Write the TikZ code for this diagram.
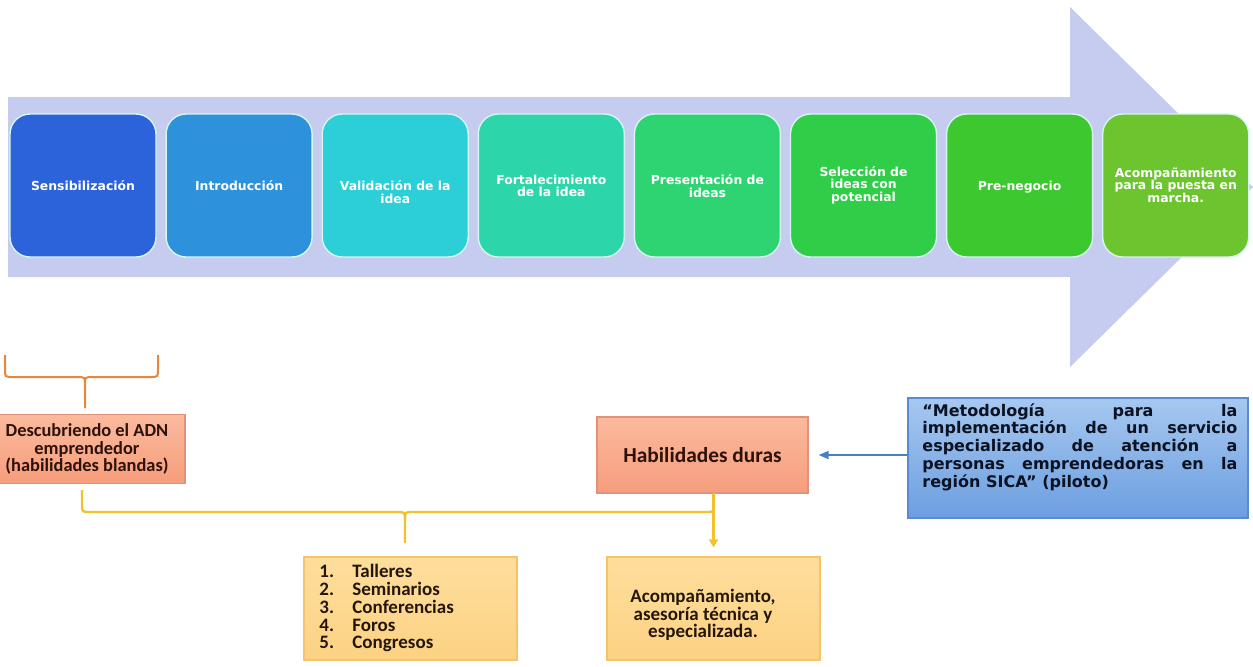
\documentclass[tikz,border=0pt]{standalone}
\usepackage{fontspec}
\setmainfont{DejaVu Sans}
\newfontfamily\carl{Carlito}
\usetikzlibrary{arrows.meta,calc}
\newcommand\tightls{\lineskiplimit -20pt\relax}
\definecolor{arrowcol}{HTML}{C6CBF0}
\definecolor{cA}{HTML}{2C62DA}
\definecolor{cB}{HTML}{2D92DB}
\definecolor{cC}{HTML}{2CCED8}
\definecolor{cD}{HTML}{2DD6AA}
\definecolor{cE}{HTML}{2ED472}
\definecolor{cF}{HTML}{30CE48}
\definecolor{cG}{HTML}{3CC82E}
\definecolor{cH}{HTML}{6CC42E}
\definecolor{boxedge}{HTML}{D4F7EE}
\definecolor{salmontop}{HTML}{FBBA9D}
\definecolor{salmonbot}{HTML}{F69D7C}
\definecolor{salmonedge}{HTML}{E3927A}
\definecolor{salmontext}{HTML}{2E1209}
\definecolor{ytop}{HTML}{FEDE9C}
\definecolor{ybot}{HTML}{FCD283}
\definecolor{yedge}{HTML}{F5C46A}
\definecolor{ytext}{HTML}{24170A}
\definecolor{btop}{HTML}{A6C8F0}
\definecolor{bbot}{HTML}{6C9EE0}
\definecolor{bedge}{HTML}{5A8BD2}
\definecolor{btext}{HTML}{0B1222}
\definecolor{barrowcol}{HTML}{4A7EC8}
\definecolor{orangebr}{HTML}{E8873A}
\definecolor{yellowbr}{HTML}{F2C12E}
\begin{document}
\begin{tikzpicture}[x=0.5pt,y=-0.5pt,
  stepbox/.style={rounded corners=10pt, minimum width=73pt, minimum height=71.5pt,
    draw=boxedge, line width=0.7pt, inner sep=0pt},
  steptext/.style={text=white, font=\bfseries\fontsize{6.2}{6.2}\selectfont\tightls,
    align=center, inner sep=0pt},
  salmonbox/.style={draw=salmonedge, line width=0.6pt, top color=salmontop, bottom color=salmonbot,
    text=salmontext, align=center, inner sep=0pt},
  ybox/.style={draw=yedge, line width=0.6pt, top color=ytop, bottom color=ybot, inner sep=0pt},
  bluebox/.style={draw=bedge, line width=0.6pt, top color=btop, bottom color=bbot, inner sep=0pt},
  carltext/.style={font=\carl\bfseries\fontsize{9.5}{8.9}\selectfont\tightls, text=ytext, inner sep=0pt},
  obrace/.style={draw=orangebr, line width=1pt},
  ybrace/.style={draw=yellowbr, line width=1.2pt},
  yarrow/.style={draw=yellowbr, line width=1.2pt, -{Triangle[width=4.5pt,length=4pt]}, shorten >=4.5pt},
  barrow/.style={draw=barrowcol, line width=0.8pt, -{Triangle[width=4pt,length=5pt]}, shorten >=5pt}
]
\useasboundingbox (0,0) rectangle (1253,666);
\fill[white] (0,0) rectangle (1253,666);
\clip (0,0) rectangle (1253,666);

% big arrow
\fill[arrowcol] (8,97) -- (1070,97) -- (1070,7) -- (1253,187) -- (1070,367) -- (1070,277) -- (8,277) -- cycle;

% step boxes
\node[stepbox, fill=cA] (b1) at (83,185.5) {};
\node[stepbox, fill=cB] (b2) at (239.1,185.5) {};
\node[stepbox, fill=cC] (b3) at (395.2,185.5) {};
\node[stepbox, fill=cD] (b4) at (551.3,185.5) {};
\node[stepbox, fill=cE] (b5) at (707.4,185.5) {};
\node[stepbox, fill=cF] (b6) at (863.5,185.5) {};
\node[stepbox, fill=cG] (b7) at (1019.6,185.5) {};
\node[stepbox, fill=cH] (b8) at (1175.7,185.5) {};

\node[steptext] (t1) at (83,186) {Sensibilización};
\node[steptext] (t2) at (239.1,186) {Introducción};
\node[steptext] (t3) at (395.2,192) {Validación de la\\idea};
\node[steptext] (t4) at (551.3,186) {Fortalecimiento\\de la idea};
\node[steptext] (t5) at (707.4,186) {Presentación de\\ideas};
\node[steptext] (t6) at (863.5,185) {Selección de\\ideas con\\potencial};
\node[steptext] (t7) at (1019.6,187) {Pre-negocio};
\node[steptext] (t8) at (1175.7,185) {Acompañamiento\\para la puesta en\\marcha.};

% bottom boxes
\node[salmonbox, minimum width=98pt, minimum height=34.5pt,
  font=\carl\bfseries\fontsize{9.2}{8.75}\selectfont\tightls] (adn) at (87,449)
  {Descubriendo el ADN\\emprendedor\\(habilidades blandas)};
\node[salmonbox, minimum width=105.5pt, minimum height=38pt,
  font=\carl\bfseries\fontsize{10.7}{12}\selectfont] (hd) at (702.5,455) {Habilidades duras};

\node[bluebox, minimum width=170pt, minimum height=60pt] (met) at (1078,458) {};
\node[anchor=north west, inner sep=0pt, align=left, text=btext,
  font=\bfseries\fontsize{8}{8.85}\selectfont\tightls] (mettext) at (922,403)
  {\makebox[157.5pt][s]{“Metodología para la}\\
   \makebox[157.5pt][s]{implementación de un servicio}\\
   \makebox[157.5pt][s]{especializado de atención a}\\
   \makebox[157.5pt][s]{personas emprendedoras en la}\\
   región SICA” (piloto)};

\node[ybox, minimum width=106.5pt, minimum height=51.5pt] (lst) at (410.5,608.5) {};
\node[ybox, minimum width=106.5pt, minimum height=51.5pt] (acb) at (713.5,608.5) {};

\node[carltext, anchor=north west, align=left] (lsttext) at (319,564)
  {\makebox[16.5pt][l]{1.}Talleres\\
   \makebox[16.5pt][l]{2.}Seminarios\\
   \makebox[16.5pt][l]{3.}Conferencias\\
   \makebox[16.5pt][l]{4.}Foros\\
   \makebox[16.5pt][l]{5.}Congresos};
\node[carltext, align=center] (acbtext) at (703,615)
  {Acompañamiento,\\asesoría técnica y\\especializada.};

% orange brace
\coordinate (ob) at (85,408);
\draw[obrace] (5,355) -- (5,369) .. controls (5,377) .. (13,377) -- (77,377)
  .. controls (85,377) .. (85,385) -- (ob);
\draw[obrace] (158,355) -- (158,369) .. controls (158,377) .. (150,377) -- (93,377)
  .. controls (85,377) .. (85,385);

% yellow brace
\coordinate (ytip) at (405,543);
\draw[ybrace] (82,490) -- (82,504) .. controls (82,512) .. (90,512) -- (397,512)
  .. controls (405,512) .. (405,520) -- (ytip);
\draw[ybrace] (405,520) .. controls (405,512) .. (413,512) -- (706,512)
  .. controls (714,512) .. (714,504) -- (714,493);

% arrows
\draw[yarrow] (acb.north |- hd.south) -- (acb.north);
\draw[barrow] (met.west |- hd.east) -- (hd.east);
\end{tikzpicture}
\end{document}
